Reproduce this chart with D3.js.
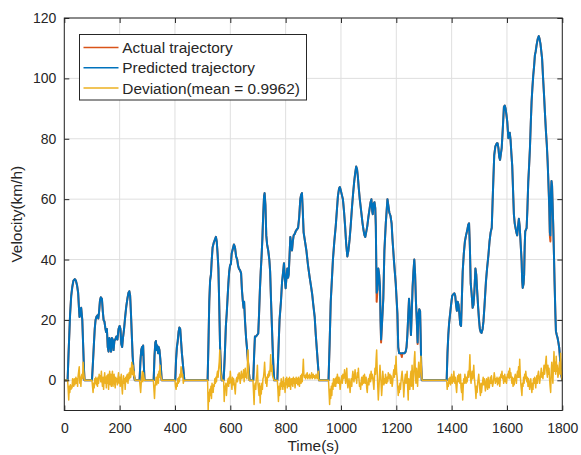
<!DOCTYPE html>
<html><head><meta charset="utf-8">
<script src="https://cdn.jsdelivr.net/npm/d3@7"></script>
<style>
html,body{margin:0;padding:0;background:#fff;}
svg{display:block;}
text{font-family:"Liberation Sans",Arial,Helvetica,sans-serif;}
</style>
</head><body>
<svg id="chart" width="581" height="455"></svg>
<script>
// ---------------- data ----------------
const xTicks = [0, 200, 400, 600, 800, 1000, 1200, 1400, 1600, 1800];
const yTicks = [0, 20, 40, 60, 80, 100, 120];
const seriesNames = ["Actual trajectory", "Predicted trajectory", "Deviation(mean = 0.9962)"];
const xLabel = "Time(s)";
const yLabel = "Velocity(km/h)";

// [time (s), speed (km/h)]
const actualTrajectory = [
[0,0],[12,0],[15,8],[18,15],[21,22],[25,28],[29,31],[33,33],[38,33.5],[42,33],[46,31.5],[50,29],[53,24],[55,21],[57,23.5],[59,21.5],[61,24],[63,22],[65,20],[68,12],[71,4],[73,0],
[100,0],[103,5],[107,12],[110,17],[113,20],[116,21],[120,21.5],[123,20.5],[126,23],[129,26.5],[132,27.5],[136,27],[139,23],[142,20],[145,19.5],[148,17.5],[151,16],[154,17],[157,11],[160,9.5],[163,14],[166,13],[169,9.5],[172,14],[175,13.5],[178,10],[181,13],[184,13.5],[188,14.5],[192,13.5],[196,17],[200,18],[203,17],[206,12],[209,11],[212,14],[216,17],[220,21],[224,24.5],[228,27],[232,29],[235,29.5],[238,28],[241,22],[244,15],[247,8],[250,4],[253,1],[255,0],
[272,0],[275,6],[278,10],[281,11],[283,8.5],[285,11.5],[287,6],[290,0],
[323,0],[326,8],[329,12.5],[331,13],[334,10],[336,11.5],[339,9],[341,11],[344,10],[347,7],[350,3],[352,0],
[401,0],[404,7],[407,11],[410,13],[413,16],[416,17.5],[419,17],[422,13],[425,9],[428,6],[431,3],[434,0],
[518,0],[521,12],[524,26],[527,33],[530,35],[533,40],[536,44],[540,45.5],[544,46.5],[548,47.5],[551,46],[554,42],[557,37],[560,25],[563,11],[566,4],[569,0],
[576,0],[580,8],[584,18],[587,22],[590,27],[593,32],[596,36],[599,38],[602,38.5],[605,42],[609,43.5],[613,45],[617,44],[621,41],[625,40],[628,38],[631,37],[635,36.5],[639,35.5],[642,30],[645,26.5],[648,24],[650,26],[653,20],[657,14],[661,10],[664,6],[667,3],[670,0],
[683,0],[686,8],[689,14.5],[693,14.5],[697,15],[701,15.5],[704,22],[707,30],[710,36],[713,41],[716,47],[719,55],[722,61],[724,62],[727,58],[730,48],[733,45],[737,43],[741,40],[744,36],[747,27],[750,19],[753,11],[756,4],[759,0],
[770,0],[774,10],[778,20],[783,26],[787,32.5],[791,36],[794,38.8],[797,34],[800,30.5],[803,34],[806,37],[809,34],[811,35],[814,41],[817,47.5],[820,45],[823,43],[826,46],[829,48],[833,48.5],[837,49.5],[841,50],[845,50.5],[849,54],[853,60],[856,61.5],[859,62],[862,56],[865,49],[870,46],[875,43],[881,38],[887,34],[892,31],[896,28.5],[900,25],[905,21],[909,15],[913,10],[917,5],[921,0],
[955,0],[959,12],[963,26],[967,33],[971,40],[976,46],[981,51],[985,56],[989,61],[993,63.5],[996,64],[999,63],[1003,61.5],[1007,60],[1011,56],[1015,51],[1019,45],[1023,41],[1027,43],[1031,46.5],[1035,51],[1040,57.5],[1044,62],[1048,66],[1052,69],[1055,70.8],[1058,70],[1061,67.5],[1064,64],[1068,60],[1073,56],[1078,52],[1082,49.5],[1085,48],[1088,47.5],[1091,49],[1095,51],[1099,54],[1103,56.5],[1107,59],[1110,60],[1113,56],[1115,55],[1118,58.5],[1121,59],[1124,57],[1126,51],[1129,26],[1132,30],[1135,37],[1138,35],[1141,31],[1143,20],[1145,12.5],[1149,20],[1153,27],[1157,43],[1162,52],[1165,56],[1168,60],[1171,58],[1175,55.5],[1179,54.5],[1183,52],[1186,47],[1189,43],[1192,39],[1195,35.5],[1198,32],[1201,27],[1204,22],[1207,11],[1210,9],[1214,9],[1218,8.5],[1220,7.7],[1222,9],[1226,9],[1230,9],[1234,9.5],[1237,11],[1240,15],[1243,21],[1246,27],[1250,21],[1253,15],[1256,23],[1259,31],[1262,36],[1265,40],[1268,35],[1271,26],[1274,20],[1277,12],[1280,22],[1283,23.5],[1286,23],[1288,15],[1290,5],[1292,0],
[1382,0],[1385,9],[1388,15],[1391,19],[1394,21.6],[1398,25],[1402,28],[1406,28.5],[1410,28.8],[1413,28],[1416,25],[1419,23],[1422,26],[1425,25],[1428,22],[1431,18.5],[1434,18],[1437,27],[1440,36],[1444,42],[1448,46],[1452,48],[1456,49.5],[1460,51.5],[1463,52],[1466,44],[1469,32],[1472,29],[1476,24],[1479,25],[1482,29],[1486,37],[1489,35],[1492,30],[1496,24],[1499,20],[1502,17],[1505,16],[1508,15.7],[1512,17],[1515,19.5],[1519,25],[1524,32.7],[1528,37],[1533,41.5],[1537,46],[1541,49],[1545,50.5],[1548,59],[1551,67],[1554,74.6],[1558,77.5],[1563,78.5],[1566,78.5],[1569,77],[1572,74],[1575,73],[1578,75],[1581,77],[1585,83.5],[1589,90.6],[1592,91],[1595,90],[1598,88],[1601,85.7],[1605,80.2],[1608,81.5],[1610,82],[1613,79.6],[1616,75],[1619,71],[1622,63],[1625,55],[1628,52],[1631,50.4],[1634,49],[1637,48],[1640,51],[1643,53.5],[1646,51],[1649,46],[1653,39.4],[1655,33],[1657,30.6],[1660,32],[1662,35],[1664,44],[1666,49.3],[1669,50],[1671,50.4],[1674,57],[1677,65.8],[1680,71],[1683,76.8],[1686,85],[1689,92.3],[1692,97],[1695,101],[1698,104],[1701,107.7],[1704,109],[1707,111],[1711,113],[1715,114],[1718,113],[1721,111.5],[1724,109],[1727,106.5],[1730,101],[1734,94.5],[1737,89],[1741,82.3],[1744,78],[1747,72.4],[1750,65],[1753,57],[1755,48],[1757,46],[1759,62],[1761,66],[1763,64.5],[1765,58],[1767,52],[1770,41],[1772,32.7],[1775,22],[1777,16.2],[1780,15],[1783,14],[1786,12.5],[1789,10.7],[1792,7],[1794,4],[1797,1.5],[1800,0]
];

const predictedTrajectory = [
[0,0],[12,0],[15,8],[18,15],[21,22],[25,28],[29,31],[33,33],[38,33.5],[42,33],[46,31.5],[50,29],[53,24],[55,21],[57,23.5],[59,21.5],[61,24],[63,22],[65,20],[68,12],[71,4],[73,0],
[100,0],[103,5],[107,12],[110,17],[113,20],[116,21],[120,21.5],[123,20.5],[126,23],[129,26.5],[132,27.5],[136,27],[139,23],[142,20],[145,19.5],[148,17.5],[151,16],[154,17],[157,11],[160,9.5],[163,14],[166,13],[169,9.5],[172,14],[175,13.5],[178,10],[181,13],[184,13.5],[188,14.5],[192,13.5],[196,17],[200,18],[203,17],[206,12],[209,11],[212,14],[216,17],[220,21],[224,24.5],[228,27],[232,29],[235,29.5],[238,28],[241,22],[244,15],[247,8],[250,4],[253,1],[255,0],
[272,0],[275,6],[278,10],[281,11],[283,8.5],[285,11.5],[287,6],[290,0],
[323,0],[326,8],[329,12.5],[331,13],[334,10],[336,11.5],[339,9],[341,11],[344,10],[347,7],[350,3],[352,0],
[401,0],[404,7],[407,11],[410,13],[413,16],[416,17.5],[419,17],[422,13],[425,9],[428,6],[431,3],[434,0],
[518,0],[521,12],[524,26],[527,33],[530,35],[533,40],[536,44],[540,45.5],[544,46.5],[548,47.5],[551,46],[554,42],[557,37],[560,25],[563,11],[566,4],[569,0],
[576,0],[580,8],[584,18],[587,22],[590,27],[593,32],[596,36],[599,38],[602,38.5],[605,42],[609,43.5],[613,45],[617,44],[621,41],[625,40],[628,38],[631,37],[635,36.5],[639,35.5],[642,30],[645,26.5],[648,24],[650,26],[653,20],[657,14],[661,10],[664,6],[667,3],[670,0],
[683,0],[686,8],[689,14.5],[693,14.5],[697,15],[701,15.5],[704,22],[707,30],[710,36],[713,41],[716,47],[719,55],[722,61],[724,62],[727,58],[730,48],[733,45],[737,43],[741,40],[744,36],[747,27],[750,19],[753,11],[756,4],[759,0],
[770,0],[774,10],[778,20],[783,26],[787,32.5],[791,36],[794,38.8],[797,34],[800,30.5],[803,34],[806,37],[809,34],[811,35],[814,41],[817,47.5],[820,45],[823,43],[826,46],[829,48],[833,48.5],[837,49.5],[841,50],[845,50.5],[849,54],[853,60],[856,61.5],[859,62],[862,56],[865,49],[870,46],[875,43],[881,38],[887,34],[892,31],[896,28.5],[900,25],[905,21],[909,15],[913,10],[917,5],[921,0],
[955,0],[959,12],[963,26],[967,33],[971,40],[976,46],[981,51],[985,56],[989,61],[993,63.5],[996,64],[999,63],[1003,61.5],[1007,60],[1011,56],[1015,51],[1019,45],[1023,41],[1027,43],[1031,46.5],[1035,51],[1040,57.5],[1044,62],[1048,66],[1052,69],[1055,70.8],[1058,70],[1061,67.5],[1064,64],[1068,60],[1073,56],[1078,52],[1082,49.5],[1085,48],[1088,47.5],[1091,49],[1095,51],[1099,54],[1103,56.5],[1107,59],[1110,60],[1113,56],[1115,55],[1118,58.5],[1121,59],[1124,57],[1126,51],[1129,29],[1132,30],[1135,37],[1138,35],[1141,31],[1143,20],[1145,13.5],[1149,20],[1153,27],[1157,43],[1162,52],[1165,56],[1168,60],[1171,58],[1175,55.5],[1179,54.5],[1183,52],[1186,47],[1189,43],[1192,39],[1195,35.5],[1198,32],[1201,27],[1204,22],[1207,11],[1210,9],[1214,9],[1218,9],[1220,9],[1222,9],[1226,9],[1230,9],[1234,9.5],[1237,11],[1240,15],[1243,21],[1246,27],[1250,21],[1253,15],[1256,23],[1259,31],[1262,36],[1265,40],[1268,35],[1271,26],[1274,20],[1277,12.5],[1280,22],[1283,23.5],[1286,23],[1288,15],[1290,5],[1292,0],
[1382,0],[1385,9],[1388,15],[1391,19],[1394,21.6],[1398,25],[1402,28],[1406,28.5],[1410,28.8],[1413,28],[1416,25],[1419,23],[1422,26],[1425,25],[1428,22],[1431,18.5],[1434,18],[1437,27],[1440,36],[1444,42],[1448,46],[1452,48],[1456,49.5],[1460,51.5],[1463,52],[1466,44],[1469,32],[1472,29],[1476,24],[1479,25],[1482,29],[1486,37],[1489,35],[1492,30],[1496,24],[1499,20],[1502,17],[1505,16],[1508,15.7],[1512,17],[1515,19.5],[1519,25],[1524,32.7],[1528,37],[1533,41.5],[1537,46],[1541,49],[1545,50.5],[1548,59],[1551,67],[1554,74.6],[1558,77.5],[1563,78.5],[1566,78.5],[1569,77],[1572,74],[1575,73],[1578,75],[1581,77],[1585,83.5],[1589,90.6],[1592,91],[1595,90],[1598,88],[1601,85.7],[1605,80.2],[1608,81.5],[1610,82],[1613,79.6],[1616,75],[1619,71],[1622,63],[1625,55],[1628,52],[1631,50.4],[1634,49],[1637,48],[1640,51],[1643,53.5],[1646,51],[1649,46],[1653,39.4],[1655,33],[1657,30.6],[1660,32],[1662,35],[1664,44],[1666,49.3],[1669,50],[1671,50.4],[1674,57],[1677,65.8],[1680,71],[1683,76.8],[1686,85],[1689,92.3],[1692,97],[1695,101],[1698,104],[1701,107.7],[1704,109],[1707,111],[1711,113],[1715,114],[1718,113],[1721,111.5],[1724,109],[1727,106.5],[1730,101],[1734,94.5],[1737,89],[1741,82.3],[1744,78],[1747,72.4],[1750,65],[1753,57],[1755,49],[1757,48],[1759,62],[1761,66],[1763,64.5],[1765,58],[1767,52],[1770,41],[1772,32.7],[1775,22],[1777,16.2],[1780,15],[1783,14],[1786,12.5],[1789,10.7],[1792,7],[1794,4],[1797,1.5],[1800,0]
];

// deviation: segment start times (s); values sampled every 2 s inside each segment
const deviationStep = 2;
const deviationStart = [12, 100, 272, 322, 400, 518, 576, 682, 770, 955, 1382];
const deviationValues = [
[0,-3,-6.5,-2,-4,-1.5,-3,-2,-2.5,0.5,-1,-2,0.5,-1.5,-0.5,1,-1,0.5,-2,1.5,3,4.5,-1,1,-2,1.5,2,0.5,6,3,1,0],
[0,-2,-4,-1,-2.5,0.5,-1,1,-1.5,0.5,-2,1,-1,2,0.5,1.5,-0.5,3,0,-2,1,-3,0.5,2.5,-1,1,-2.5,1.5,-1,2,-3,0.5,3,-1.5,2,-2,1,3,-2,0.5,2,-1,-2.5,1,-0.5,0.5,-1.5,1,2.5,-1,1,-2,0.5,2,-2,-4.5,-1,1.5,-1,0.5,-3,1,-0.5,1.5,2,-1,1,2.5,0.5,4,1,3,6,2,5,1.5,3,1,0],
[0,-2,-4,-1,1,3,-0.5,2.5,1,0],
[0,-3,-6,-2,-1,1,-1.5,0.5,2,-1,3,1,5,2,1,0],
[0,-2,-3,-1,-2,0.5,-1,1,-0.5,2,1,4.5,3,1,2,-1,0],
[0,-10,-4,-7,-3,-5,-2,-6,-1,-3,-4,-1.5,-2,0.5,-1,1,-0.5,2,3,1,4,6,10,4,2,1,0],
[0,-7,-2,-3,-1,-5,-2,-1,0.5,-2,1,-1,3,0.5,-1,-3,1,-1.5,0.5,-1,-2.5,-4.5,-1,0.5,1,-0.5,2,0.5,2.5,1,-1,1.5,3,0.5,2,1,3.5,-0.5,2,4,1,2,0.5,5,10,3,0],
[0,-4,-8,-2,-1,-3,0.5,2,5,-1,-3,-5,-1,-7.5,-2,-4.5,-1,-3,0.5,1,3,6,2,-1,1,-2,0.5,2,1,3,1.5,4,8.5,3,5,2,1,0.5,0],
[0,-3,-7,-2,-5,-1,-3,0.5,-2,-0.5,-3,1,-2,-1,-4,0.5,-1.5,1,-2.5,-1,0.5,-2,1,-1,-3,0.5,-1.5,0.5,-2,1,-1,0.5,-2.5,-0.5,1,-1,0.5,-1.5,1,-0.5,-2,0.5,1.5,-1,2,-0.5,3,7,2,1,1.5,0.5,2,1,2.5,0.5,1.5,1,2,0.5,1.5,1,2.5,0.5,1,2,1,1.5,0.5,1,2,1,0.5,1,3,0],
[0,-4,-8,-3,-6,-2,-5,-1,-3,0.5,-2,-1,0.5,-2,1,-1,2,0.5,-1,1,-0.5,-3,-1,0.5,1.5,-1,2,0.5,1,3.5,1,-1,2,4,-0.5,-2.5,-1,0.5,-1.5,-4,-1,0.5,-2,1,3,1,-0.5,1.5,3.5,0.5,1,-1,2.5,1,4,0.5,-2,-1,-3,-0.5,1,-1.5,0.5,1.5,-1,2,0.5,-1,1,-2.5,-4,-1,0.5,-1.5,1,2,-0.5,3,0.5,2,1,-1,-3,1,4,2,7,10,3,-2,-6.5,-3,1,5,2,-1,-5,-2,3,1,-1.5,0.5,-1,2,0.5,-1,1,-0.5,2.5,1,0.5,2,-1,1.5,0.5,-2,-0.5,2,3.5,1,5,2,8,3,1,-2,-5,-2,-4,-1,-3,-0.5,1.5,3,0.5,-1,-5.5,-2,0.5,2,-1,1,3,-2,-6.5,0.5,-1,-3,1,3,-2,5,1,-3,2,7,9.5,2,-1,4,1,-2,3,6,1,2,5,8,3,0],
[0,-3,-1,-2,0.5,-1,1,-1.5,0.5,2,-1,1,-0.5,3,0.5,-1,1,-2,-4,-1,1.5,-0.5,2,0.5,-1,2,-2.5,-4,-1,-6.5,-2,0.5,-1,2,0.5,-1,1,-0.5,1.5,3,1,4,8.5,2,-1,1,3,0.5,2,5,1,-1,-3,-6,-2,-4,-1,0.5,2,-1,-3,-5,-1,-4,-2,-0.5,1,-1.5,0.5,-1,-3.5,-1,0.5,-2,-3,1,-1,-2.5,-0.5,1,-1,1.5,-0.5,-2,-1,0.5,2.5,1,-1,0.5,-0.5,1,-1.5,0.5,-1,1,-2,0.5,2,1,3,0.5,1.5,-1,0.5,2,-0.5,1,-1,0.5,2,1,3,0.5,4,1,2.5,0.5,-1,1,-2,0.5,-1.5,1,2,0.5,-1,1.5,3,1,4.5,1,7,2,-1,-3,-5,-1,-2,1,-1,2,0.5,3,1,-0.5,1,-2,0.5,-1,-3,-1,0.5,-2,-4,-1,-3,0.5,-1,1,-0.5,-2.5,0.5,1.5,-1,2,3,1,-1,0.5,2,4,1,2.5,0.5,3,5,2,4,6,8,3,1,5,2,4,0.5,-2,-4,3,6,2,-1,5,9.5,3,6,2,8,3,5,1,2,4,6,2,9,3,1,0]
];

// ---------------- drawing ----------------
const W = 581, H = 455;
const plotLeft = 64.3, plotRight = 562.3, plotTop = 18, plotBottom = 410.5;
const colors = ["#D95319", "#0072BD", "#EDB120"];
const axisColor = "#262626";
const tickFont = 14, labelFont = 15.4, legendFont = 15.4;

const svg = d3.select("#chart");
const x = d3.scaleLinear().domain([0, 1800]).range([plotLeft, plotRight]);
const y = d3.scaleLinear().domain([-10, 120]).range([plotBottom, plotTop]);

svg.append("rect").attr("width", W).attr("height", H).attr("fill", "#fff");

svg.append("defs").append("clipPath").attr("id", "plotClip")
  .append("rect").attr("x", plotLeft).attr("y", plotTop)
  .attr("width", plotRight - plotLeft).attr("height", plotBottom - plotTop);

// grid
const grid = svg.append("g").attr("stroke", "#dfdfdf").attr("stroke-width", 1);
grid.selectAll("line.gx").data(xTicks).join("line").attr("class", "gx")
  .attr("x1", d => x(d)).attr("x2", d => x(d)).attr("y1", plotTop).attr("y2", plotBottom);
grid.selectAll("line.gy").data(yTicks).join("line").attr("class", "gy")
  .attr("x1", plotLeft).attr("x2", plotRight).attr("y1", d => y(d)).attr("y2", d => y(d));

// deviation points
const deviationPoints = [[0, 0]];
deviationStart.forEach((s, k) => {
  deviationValues[k].forEach((v, i) => deviationPoints.push([s + i * deviationStep, v]));
});
deviationPoints.push([1800, 0]);

const line = d3.line().x(d => x(d[0])).y(d => y(d[1]));
const plot = svg.append("g").attr("clip-path", "url(#plotClip)");
const lineData = [actualTrajectory, predictedTrajectory, deviationPoints];
const widths = [2, 2, 1.5];
lineData.forEach((data, i) => {
  plot.append("path").datum(data).attr("d", line)
    .attr("fill", "none").attr("stroke", colors[i]).attr("stroke-width", widths[i])
    .attr("stroke-linejoin", "round");
});

// axes
function styleAxis(g) {
  g.select(".domain").remove();
  g.selectAll(".tick line").attr("stroke", axisColor);
  g.selectAll(".tick text").attr("fill", axisColor).attr("font-size", tickFont)
    .attr("font-family", "'Liberation Sans', Arial, sans-serif");
}
svg.append("g").attr("transform", `translate(0,${plotBottom})`)
  .call(d3.axisBottom(x).tickValues(xTicks).tickSize(-5).tickPadding(12.5).tickFormat(d3.format("d")))
  .call(styleAxis);
svg.append("g").attr("transform", `translate(0,${plotTop})`)
  .call(d3.axisTop(x).tickValues(xTicks).tickSize(-5).tickFormat(""))
  .call(styleAxis);
svg.append("g").attr("transform", `translate(${plotLeft},0)`)
  .call(d3.axisLeft(y).tickValues(yTicks).tickSize(-5).tickPadding(8).tickFormat(d3.format("d")))
  .call(styleAxis);
svg.append("g").attr("transform", `translate(${plotRight},0)`)
  .call(d3.axisRight(y).tickValues(yTicks).tickSize(-5).tickFormat(""))
  .call(styleAxis);

svg.append("rect").attr("x", plotLeft).attr("y", plotTop)
  .attr("width", plotRight - plotLeft).attr("height", plotBottom - plotTop)
  .attr("fill", "none").attr("stroke", axisColor).attr("stroke-width", 1);

// axis labels
svg.append("text").attr("x", (plotLeft + plotRight) / 2).attr("y", 450.5)
  .attr("text-anchor", "middle").attr("font-size", labelFont).attr("fill", axisColor).text(xLabel);
svg.append("text").attr("transform", `translate(22,${(plotTop + plotBottom) / 2}) rotate(-90)`)
  .attr("text-anchor", "middle").attr("font-size", labelFont).attr("fill", axisColor).text(yLabel);

// legend
const legend = svg.append("g");
legend.append("rect").attr("x", 79.5).attr("y", 34.5).attr("width", 227).attr("height", 65.5)
  .attr("fill", "#fff").attr("stroke", axisColor).attr("stroke-width", 1);
seriesNames.forEach((name, i) => {
  const cy = 47.5 + i * 20.3;
  legend.append("line").attr("x1", 83.5).attr("x2", 118.5).attr("y1", cy).attr("y2", cy)
    .attr("stroke", colors[i]).attr("stroke-width", 1.5);
  legend.append("text").attr("x", 122.3).attr("y", cy + 5.4).attr("font-size", legendFont)
    .attr("fill", axisColor).text(name);
});
</script>
</body></html>
